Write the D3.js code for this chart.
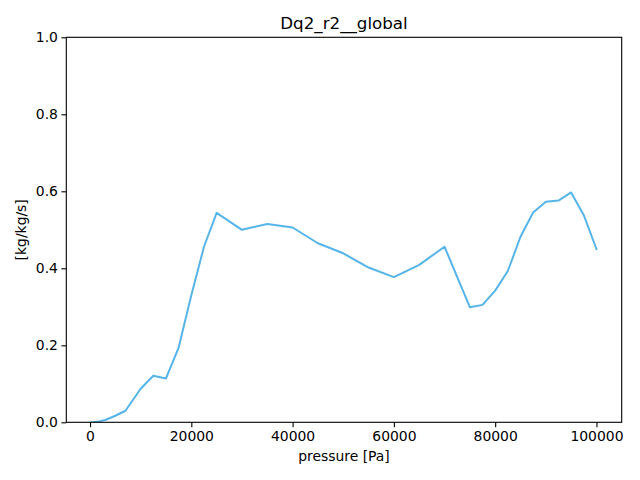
<!DOCTYPE html>
<html>
<head>
<meta charset="utf-8">
<script src="https://cdn.jsdelivr.net/npm/d3@7"></script>
<style>
  body { margin: 0; background: #fff; }
  svg text { font-family: "DejaVu Sans", sans-serif; fill: #000; }
</style>
</head>
<body>
<svg id="chart" width="640" height="480"></svg>
<script>
// pressure levels [Pa] and values [kg/kg/s]
const pressure = [300, 500, 700, 1000, 2000, 3000, 5000, 7000,
  10000, 12500, 15000, 17500, 20000, 22500, 25000, 30000, 35000, 40000,
  45000, 50000, 55000, 60000, 65000, 70000, 75000, 77500, 80000, 82500,
  85000, 87500, 90000, 92500, 95000, 97500, 100000];
const dq2 = [0.0, 0.0, 0.0, 0.001, 0.003, 0.006, 0.017, 0.030,
  0.087, 0.121, 0.114, 0.194, 0.330, 0.456, 0.544, 0.500, 0.515, 0.506,
  0.465, 0.439, 0.402, 0.377, 0.409, 0.456, 0.299, 0.305, 0.342, 0.393,
  0.482, 0.545, 0.573, 0.576, 0.597, 0.538, 0.450];
const xTicks = [0, 20000, 40000, 60000, 80000, 100000];
const yTicks = [0.0, 0.2, 0.4, 0.6, 0.8, 1.0];

const svg = d3.select('#chart');
const plotL = 66.3, plotR = 621.7, plotT = 37.3, plotB = 422.3;

const xMin = d3.min(pressure), xMax = d3.max(pressure);
const pad = (xMax - xMin) * 0.05;
const x = d3.scaleLinear().domain([xMin - pad, xMax + pad]).range([plotL, plotR]);
const y = d3.scaleLinear().domain([0, 1]).range([plotB, plotT]);

const points = pressure.map((p, i) => [p, dq2[i]]);

svg.append('defs').append('clipPath').attr('id', 'clip')
  .append('rect')
  .attr('x', plotL).attr('y', plotT)
  .attr('width', plotR - plotL).attr('height', plotB - plotT);

svg.append('path')
  .datum(points)
  .attr('clip-path', 'url(#clip)')
  .attr('fill', 'none')
  .attr('stroke', '#56B4E9')
  .attr('stroke-width', 2)
  .attr('stroke-linejoin', 'round')
  .attr('stroke-linecap', 'square')
  .attr('d', d3.line().x(d => x(d[0])).y(d => y(d[1])));

// axes
const xAxis = svg.append('g')
  .attr('transform', `translate(0,${plotB})`)
  .call(d3.axisBottom(x).tickValues(xTicks).tickFormat(d3.format('d'))
    .tickSize(4.9).tickPadding(3.5).tickSizeOuter(0));
const yAxis = svg.append('g')
  .attr('transform', `translate(${plotL},0)`)
  .call(d3.axisLeft(y).tickValues(yTicks).tickFormat(d3.format('.1f'))
    .tickSize(4.9).tickPadding(3.5).tickSizeOuter(0));

[xAxis, yAxis].forEach(g => {
  g.select('.domain').remove();
  g.selectAll('.tick line').attr('stroke', '#000').attr('stroke-width', 1.1);
  g.selectAll('.tick text').attr('font-size', 13.9).attr('font-family', '"DejaVu Sans", sans-serif');
});

// frame
svg.append('rect')
  .attr('x', plotL).attr('y', plotT)
  .attr('width', plotR - plotL).attr('height', plotB - plotT)
  .attr('fill', 'none').attr('stroke', '#000').attr('stroke-width', 1.1);

svg.append('text')
  .attr('x', (plotL + plotR) / 2).attr('y', 29)
  .attr('text-anchor', 'middle').attr('font-size', 16.7)
  .text('Dq2_r2__global');

svg.append('text')
  .attr('x', (plotL + plotR) / 2).attr('y', 461)
  .attr('text-anchor', 'middle').attr('font-size', 13.9)
  .text('pressure [Pa]');

svg.append('text')
  .attr('transform', `translate(26,${(plotT + plotB) / 2}) rotate(-90)`)
  .attr('text-anchor', 'middle').attr('font-size', 13.9)
  .text('[kg/kg/s]');
</script>
</body>
</html>
